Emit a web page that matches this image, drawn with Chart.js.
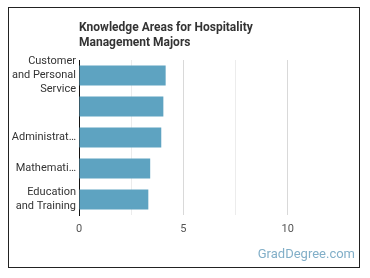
<!DOCTYPE html>
<html>
<head>
<meta charset="utf-8">
<script src="https://cdn.jsdelivr.net/npm/chart.js@4"></script>
<style>
  html, body { margin: 0; padding: 0; background: #fff; }
  #wrap { position: relative; width: 370px; height: 278px; }
  #frame { position: absolute; left: 8px; top: 7px; width: 350px; height: 259px; border: 1px solid #222; }
  canvas { position: absolute; left: 0; top: 0; }
</style>
</head>
<body>
<div id="wrap">
  <div id="frame"></div>
  <canvas id="chart" width="370" height="278"></canvas>
</div>
<script>
// Data
const categories = [
    ['Customer', 'and Personal', 'Service'],
    '',
    'Administrat…',
    'Mathemati…',
    ['Education', 'and Training']
];
const scores = [4.15, 4.04, 3.94, 3.41, 3.32];
const tickLabels = [0, 5, 10];
const titleLines = ['Knowledge Areas for Hospitality', 'Management Majors'];
const watermark = 'GradDegree.com';

const FONT = 'Roboto, "Noto Sans", sans-serif';

// title + watermark drawn on the canvas
const extras = {
    id: 'extras',
    afterDraw(chart) {
        const ctx = chart.ctx;
        ctx.save();
        ctx.fillStyle = '#333';
        ctx.font = 'bold 12px ' + FONT;
        ctx.textBaseline = 'middle';
        ctx.textAlign = 'left';
        titleLines.forEach((t, i) => ctx.fillText(t, chart.chartArea.left, 28 + i * 15));
        ctx.fillStyle = '#82afc8';
        ctx.font = '13px ' + FONT;
        ctx.textAlign = 'right';
        ctx.fillText(watermark, 355, 255);
        ctx.restore();
    }
};

new Chart(document.getElementById('chart'), {
    type: 'bar',
    data: {
        labels: categories,
        datasets: [{
            data: scores,
            backgroundColor: '#5ea3c1',
            borderWidth: 0,
            categoryPercentage: 1,
            barPercentage: 0.65,
        }],
    },
    options: {
        indexAxis: 'y',
        responsive: false,
        animation: false,
        layout: { padding: { left: 0, top: 60, right: 30, bottom: 43 } },
        plugins: { legend: { display: false }, tooltip: { enabled: false } },
        scales: {
            x: {
                min: 0,
                max: 12.5,
                border: { display: false },
                grid: {
                    drawTicks: false,
                    color: (c) => {
                        if (!c.tick || c.tick.value > 10) return 'rgba(0,0,0,0)';
                        return c.tick.value % 5 === 0 ? '#d9d9d9' : '#ececec';
                    },
                },
                ticks: {
                    stepSize: 2.5,
                    padding: 8,
                    color: '#555',
                    font: { family: FONT, size: 11 },
                    callback: (v) => tickLabels.includes(v) ? String(v) : '',
                },
                afterFit: (s) => { s.height = 20; },
            },
            y: {
                border: { display: true, color: '#111', width: 1 },
                grid: { display: false, drawTicks: false },
                ticks: {
                    autoSkip: false,
                    padding: 3,
                    color: '#333',
                    font: { family: FONT, size: 11, lineHeight: 1.27 },
                },
                afterFit: (s) => { s.width = 79; },
            },
        },
    },
    plugins: [extras],
});
</script>
</body>
</html>
